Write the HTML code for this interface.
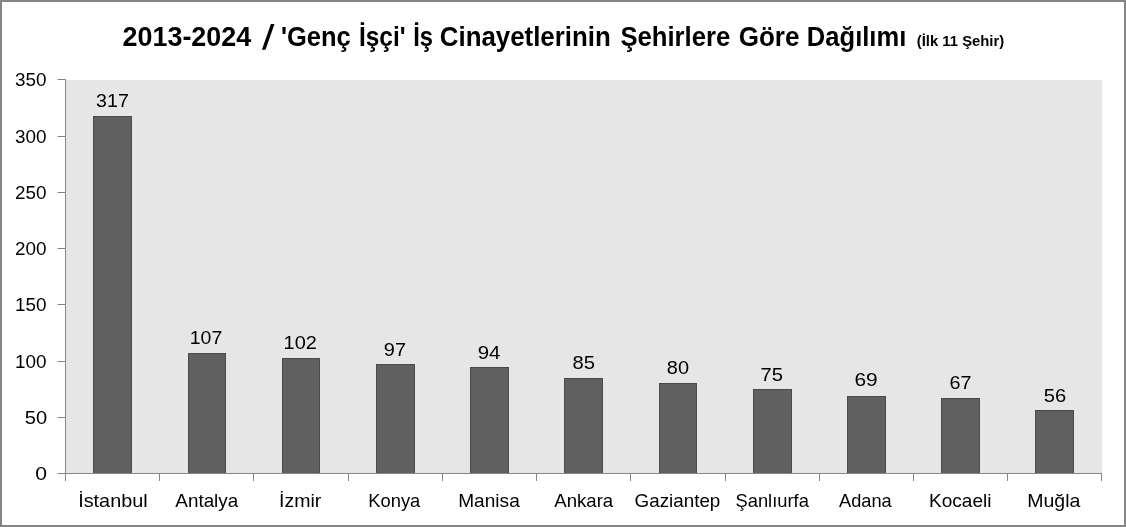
<!DOCTYPE html>
<html lang="tr"><head><meta charset="utf-8"><title>Chart</title>
<style>html,body{margin:0;padding:0;background:#fff;}body{width:1126px;height:527px;overflow:hidden;font-family:"Liberation Sans",sans-serif;}svg{display:block;filter:grayscale(1)}</style>
</head><body>
<svg width="1126" height="527" viewBox="0 0 1126 527" font-family="'Liberation Sans', sans-serif" fill="#000">
<rect x="0" y="0" width="1126" height="527" fill="#fff"/>
<rect x="1" y="1" width="1124" height="525" fill="none" stroke="#858585" stroke-width="2"/>
<rect x="66" y="80" width="1036" height="393" fill="#e6e6e6"/>
<rect x="93.5" y="116.5" width="38" height="357" fill="#606060" stroke="#4a4a4a" stroke-width="1"/>
<rect x="188.5" y="353.5" width="37" height="120" fill="#606060" stroke="#4a4a4a" stroke-width="1"/>
<rect x="282.5" y="358.5" width="37" height="115" fill="#606060" stroke="#4a4a4a" stroke-width="1"/>
<rect x="376.5" y="364.5" width="38" height="109" fill="#606060" stroke="#4a4a4a" stroke-width="1"/>
<rect x="470.5" y="367.5" width="38" height="106" fill="#606060" stroke="#4a4a4a" stroke-width="1"/>
<rect x="564.5" y="378.5" width="38" height="95" fill="#606060" stroke="#4a4a4a" stroke-width="1"/>
<rect x="659.5" y="383.5" width="37" height="90" fill="#606060" stroke="#4a4a4a" stroke-width="1"/>
<rect x="753.5" y="389.5" width="38" height="84" fill="#606060" stroke="#4a4a4a" stroke-width="1"/>
<rect x="847.5" y="396.5" width="38" height="77" fill="#606060" stroke="#4a4a4a" stroke-width="1"/>
<rect x="941.5" y="398.5" width="38" height="75" fill="#606060" stroke="#4a4a4a" stroke-width="1"/>
<rect x="1035.5" y="410.5" width="38" height="63" fill="#606060" stroke="#4a4a4a" stroke-width="1"/>
<rect x="65" y="79" width="1" height="402" fill="#868686"/>
<rect x="57.5" y="473" width="1044.5" height="1" fill="#868686"/>
<rect x="57.5" y="79" width="8" height="1" fill="#868686"/>
<text id="y0" x="46.60" y="85.95" font-size="18.1" text-anchor="end" font-weight="normal" textLength="31.54" lengthAdjust="spacingAndGlyphs">350</text>
<rect x="57.5" y="136" width="8" height="1" fill="#868686"/>
<text id="y1" x="46.60" y="142.95" font-size="18.1" text-anchor="end" font-weight="normal" textLength="31.54" lengthAdjust="spacingAndGlyphs">300</text>
<rect x="57.5" y="192" width="8" height="1" fill="#868686"/>
<text id="y2" x="46.60" y="198.95" font-size="18.1" text-anchor="end" font-weight="normal" textLength="31.54" lengthAdjust="spacingAndGlyphs">250</text>
<rect x="57.5" y="248" width="8" height="1" fill="#868686"/>
<text id="y3" x="46.60" y="254.95" font-size="18.1" text-anchor="end" font-weight="normal" textLength="31.54" lengthAdjust="spacingAndGlyphs">200</text>
<rect x="57.5" y="304" width="8" height="1" fill="#868686"/>
<text id="y4" x="46.60" y="310.95" font-size="18.1" text-anchor="end" font-weight="normal" textLength="31.54" lengthAdjust="spacingAndGlyphs">150</text>
<rect x="57.5" y="361" width="8" height="1" fill="#868686"/>
<text id="y5" x="46.60" y="367.95" font-size="18.1" text-anchor="end" font-weight="normal" textLength="31.54" lengthAdjust="spacingAndGlyphs">100</text>
<rect x="57.5" y="417" width="8" height="1" fill="#868686"/>
<text id="y6" x="47.15" y="423.95" font-size="18.1" text-anchor="end" font-weight="normal" textLength="22.37" lengthAdjust="spacingAndGlyphs">50</text>
<text id="y7" x="47.15" y="479.95" font-size="18.1" text-anchor="end" font-weight="normal" textLength="11.78" lengthAdjust="spacingAndGlyphs">0</text>
<rect x="159" y="474" width="1" height="7" fill="#868686"/>
<rect x="253" y="474" width="1" height="7" fill="#868686"/>
<rect x="348" y="474" width="1" height="7" fill="#868686"/>
<rect x="442" y="474" width="1" height="7" fill="#868686"/>
<rect x="536" y="474" width="1" height="7" fill="#868686"/>
<rect x="630" y="474" width="1" height="7" fill="#868686"/>
<rect x="725" y="474" width="1" height="7" fill="#868686"/>
<rect x="819" y="474" width="1" height="7" fill="#868686"/>
<rect x="913" y="474" width="1" height="7" fill="#868686"/>
<rect x="1007" y="474" width="1" height="7" fill="#868686"/>
<rect x="1101" y="474" width="1" height="7" fill="#868686"/>
<text id="v0" x="112.44" y="106.65" font-size="18.1" text-anchor="middle" font-weight="normal" textLength="32.76" lengthAdjust="spacingAndGlyphs">317</text>
<text id="v1" x="205.99" y="343.95" font-size="18.1" text-anchor="middle" font-weight="normal" textLength="32.58" lengthAdjust="spacingAndGlyphs">107</text>
<text id="v2" x="300.18" y="349.15" font-size="18.1" text-anchor="middle" font-weight="normal" textLength="33.23" lengthAdjust="spacingAndGlyphs">102</text>
<text id="v3" x="394.91" y="355.85" font-size="18.1" text-anchor="middle" font-weight="normal" textLength="22.21" lengthAdjust="spacingAndGlyphs">97</text>
<text id="v4" x="489.01" y="358.95" font-size="18.1" text-anchor="middle" font-weight="normal" textLength="22.69" lengthAdjust="spacingAndGlyphs">94</text>
<text id="v5" x="583.83" y="368.95" font-size="18.1" text-anchor="middle" font-weight="normal" textLength="22.49" lengthAdjust="spacingAndGlyphs">85</text>
<text id="v6" x="677.90" y="373.85" font-size="18.1" text-anchor="middle" font-weight="normal" textLength="22.22" lengthAdjust="spacingAndGlyphs">80</text>
<text id="v7" x="771.71" y="380.95" font-size="18.1" text-anchor="middle" font-weight="normal" textLength="22.49" lengthAdjust="spacingAndGlyphs">75</text>
<text id="v8" x="866.03" y="385.95" font-size="18.1" text-anchor="middle" font-weight="normal" textLength="23.24" lengthAdjust="spacingAndGlyphs">69</text>
<text id="v9" x="960.59" y="388.95" font-size="18.1" text-anchor="middle" font-weight="normal" textLength="22.04" lengthAdjust="spacingAndGlyphs">67</text>
<text id="v10" x="1055.09" y="401.65" font-size="18.1" text-anchor="middle" font-weight="normal" textLength="22.45" lengthAdjust="spacingAndGlyphs">56</text>
<text id="c0" x="112.93" y="506.60" font-size="17.7" text-anchor="middle" font-weight="normal" textLength="69.49" lengthAdjust="spacingAndGlyphs">İstanbul</text>
<text id="c1" x="206.78" y="506.60" font-size="17.7" text-anchor="middle" font-weight="normal" textLength="62.93" lengthAdjust="spacingAndGlyphs">Antalya</text>
<text id="c2" x="300.19" y="506.60" font-size="17.7" text-anchor="middle" font-weight="normal" textLength="42.38" lengthAdjust="spacingAndGlyphs">İzmir</text>
<text id="c3" x="394.35" y="506.60" font-size="17.7" text-anchor="middle" font-weight="normal" textLength="51.96" lengthAdjust="spacingAndGlyphs">Konya</text>
<text id="c4" x="489.00" y="506.60" font-size="17.7" text-anchor="middle" font-weight="normal" textLength="61.59" lengthAdjust="spacingAndGlyphs">Manisa</text>
<text id="c5" x="583.76" y="506.60" font-size="17.7" text-anchor="middle" font-weight="normal" textLength="58.91" lengthAdjust="spacingAndGlyphs">Ankara</text>
<text id="c6" x="677.44" y="506.60" font-size="17.7" text-anchor="middle" font-weight="normal" textLength="85.80" lengthAdjust="spacingAndGlyphs">Gaziantep</text>
<text id="c7" x="772.19" y="506.60" font-size="17.7" text-anchor="middle" font-weight="normal" textLength="73.48" lengthAdjust="spacingAndGlyphs">Şanlıurfa</text>
<text id="c8" x="865.43" y="506.60" font-size="17.7" text-anchor="middle" font-weight="normal" textLength="52.64" lengthAdjust="spacingAndGlyphs">Adana</text>
<text id="c9" x="960.24" y="506.60" font-size="17.7" text-anchor="middle" font-weight="normal" textLength="62.40" lengthAdjust="spacingAndGlyphs">Kocaeli</text>
<text id="c10" x="1053.80" y="506.60" font-size="17.7" text-anchor="middle" font-weight="normal" textLength="53.16" lengthAdjust="spacingAndGlyphs">Muğla</text>
<text id="t0" x="186.88" y="45.60" font-size="28.2" text-anchor="middle" font-weight="bold" textLength="128.56" lengthAdjust="spacingAndGlyphs">2013-2024</text>
<polygon points="270.9,24 274.5,24 265.5,49.8 261.9,49.8" fill="#000"/>
<text id="t2" x="315.82" y="45.60" font-size="28.2" text-anchor="middle" font-weight="bold" textLength="69.74" lengthAdjust="spacingAndGlyphs">&#39;Genç</text>
<text id="t3" x="382.28" y="45.60" font-size="28.2" text-anchor="middle" font-weight="bold" textLength="46.60" lengthAdjust="spacingAndGlyphs">İşçi&#39;</text>
<text id="t4" x="423.06" y="45.60" font-size="28.2" text-anchor="middle" font-weight="bold" textLength="19.81" lengthAdjust="spacingAndGlyphs">İş</text>
<text id="t5" x="525.30" y="45.60" font-size="28.2" text-anchor="middle" font-weight="bold" textLength="170.87" lengthAdjust="spacingAndGlyphs">Cinayetlerinin</text>
<text id="t6" x="675.33" y="45.60" font-size="28.2" text-anchor="middle" font-weight="bold" textLength="109.83" lengthAdjust="spacingAndGlyphs">Şehirlere</text>
<text id="t7" x="769.07" y="45.60" font-size="28.2" text-anchor="middle" font-weight="bold" textLength="60.79" lengthAdjust="spacingAndGlyphs">Göre</text>
<text id="t8" x="856.56" y="45.60" font-size="28.2" text-anchor="middle" font-weight="bold" textLength="99.38" lengthAdjust="spacingAndGlyphs">Dağılımı</text>
<text id="sub" x="960.48" y="45.70" font-size="14.8" text-anchor="middle" font-weight="bold" textLength="87.49" lengthAdjust="spacingAndGlyphs">(İlk 11 Şehir)</text>
</svg>
</body></html>
